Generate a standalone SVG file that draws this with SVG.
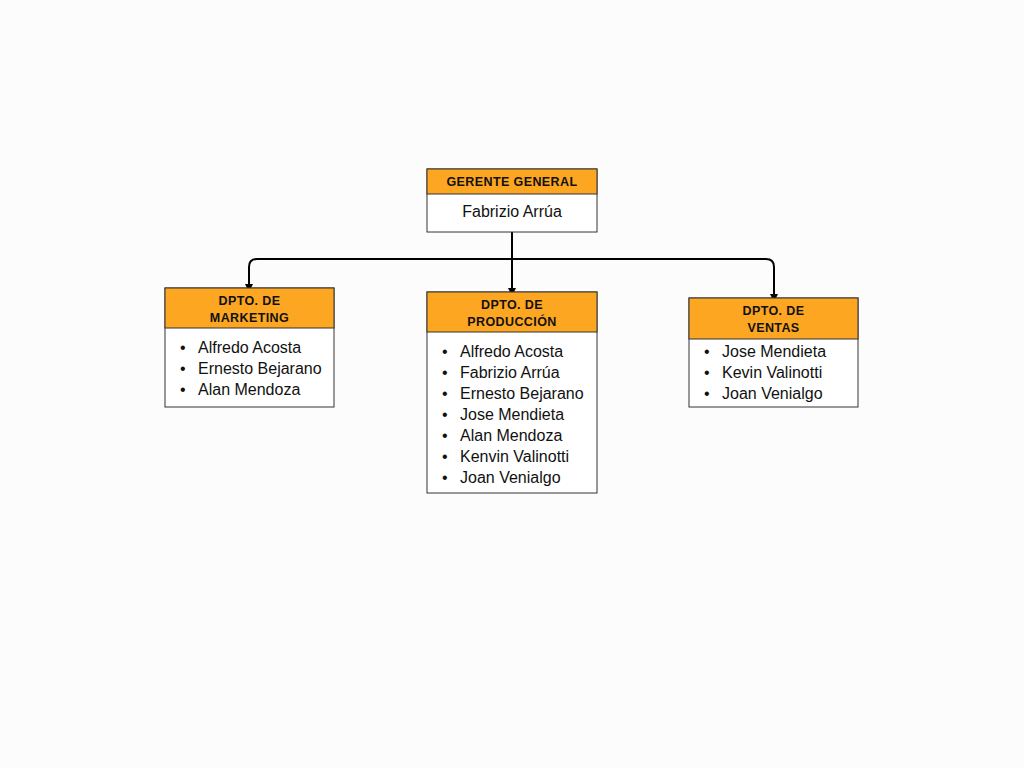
<svg xmlns="http://www.w3.org/2000/svg" width="1024" height="768" viewBox="0 0 1024 768">
<defs>
<marker id="arr" markerWidth="8" markerHeight="8" refX="4" refY="4" orient="auto" markerUnits="userSpaceOnUse">
<path d="M0,0 L8,4 L0,8 Z" fill="#000"/>
</marker>
<style>
.hd{fill:#fca622;stroke:#333;stroke-width:1}
.bd{fill:#fff;stroke:#333;stroke-width:1}
.ht{font-family:"Liberation Sans",Arial,sans-serif;font-weight:bold;font-size:12.5px;letter-spacing:0.4px;fill:#111;text-anchor:middle}
.it{font-family:"Liberation Sans",Arial,sans-serif;font-size:16px;fill:#111}
.ct{font-family:"Liberation Sans",Arial,sans-serif;font-size:16px;fill:#111;text-anchor:middle}
.cn{fill:none;stroke:#000;stroke-width:2}
</style>
</defs>
<rect width="1024" height="768" fill="#fcfcfc"/>
<g id="connectors">
<path class="cn" d="M512,232 V292" marker-end="url(#arr)"/>
<path class="cn" d="M512,259 H257 Q249,259 249,267 V288" marker-end="url(#arr)"/>
<path class="cn" d="M512,259 H766 Q774,259 774,267 V298" marker-end="url(#arr)"/>
</g>
<g id="gerente">
<rect class="bd" x="427" y="169" width="170" height="63"/>
<rect class="hd" x="427" y="169" width="170" height="25"/>
<text class="ht" x="512" y="186">GERENTE GENERAL</text>
<text class="ct" x="512" y="217">Fabrizio Arrúa</text>
</g>
<g id="marketing">
<rect class="bd" x="165" y="288" width="169" height="119"/>
<rect class="hd" x="165" y="288" width="169" height="40"/>
<text class="ht" x="249.5" y="305">DPTO. DE</text>
<text class="ht" x="249.5" y="322">MARKETING</text>
<text class="it" x="180" y="353">•</text><text class="it" x="198" y="353">Alfredo Acosta</text>
<text class="it" x="180" y="374">•</text><text class="it" x="198" y="374">Ernesto Bejarano</text>
<text class="it" x="180" y="395">•</text><text class="it" x="198" y="395">Alan Mendoza</text>
</g>
<g id="produccion">
<rect class="bd" x="427" y="292" width="170" height="201"/>
<rect class="hd" x="427" y="292" width="170" height="40"/>
<text class="ht" x="512" y="309">DPTO. DE</text>
<text class="ht" x="512" y="326">PRODUCCIÓN</text>
<text class="it" x="442" y="357">•</text><text class="it" x="460" y="357">Alfredo Acosta</text>
<text class="it" x="442" y="378">•</text><text class="it" x="460" y="378">Fabrizio Arrúa</text>
<text class="it" x="442" y="399">•</text><text class="it" x="460" y="399">Ernesto Bejarano</text>
<text class="it" x="442" y="420">•</text><text class="it" x="460" y="420">Jose Mendieta</text>
<text class="it" x="442" y="441">•</text><text class="it" x="460" y="441">Alan Mendoza</text>
<text class="it" x="442" y="462">•</text><text class="it" x="460" y="462">Kenvin Valinotti</text>
<text class="it" x="442" y="483">•</text><text class="it" x="460" y="483">Joan Venialgo</text>
</g>
<g id="ventas">
<rect class="bd" x="689" y="298" width="169" height="109"/>
<rect class="hd" x="689" y="298" width="169" height="41"/>
<text class="ht" x="773.5" y="315">DPTO. DE</text>
<text class="ht" x="773.5" y="332">VENTAS</text>
<text class="it" x="704" y="357">•</text><text class="it" x="722" y="357">Jose Mendieta</text>
<text class="it" x="704" y="378">•</text><text class="it" x="722" y="378">Kevin Valinotti</text>
<text class="it" x="704" y="399">•</text><text class="it" x="722" y="399">Joan Venialgo</text>
</g>
</svg>
